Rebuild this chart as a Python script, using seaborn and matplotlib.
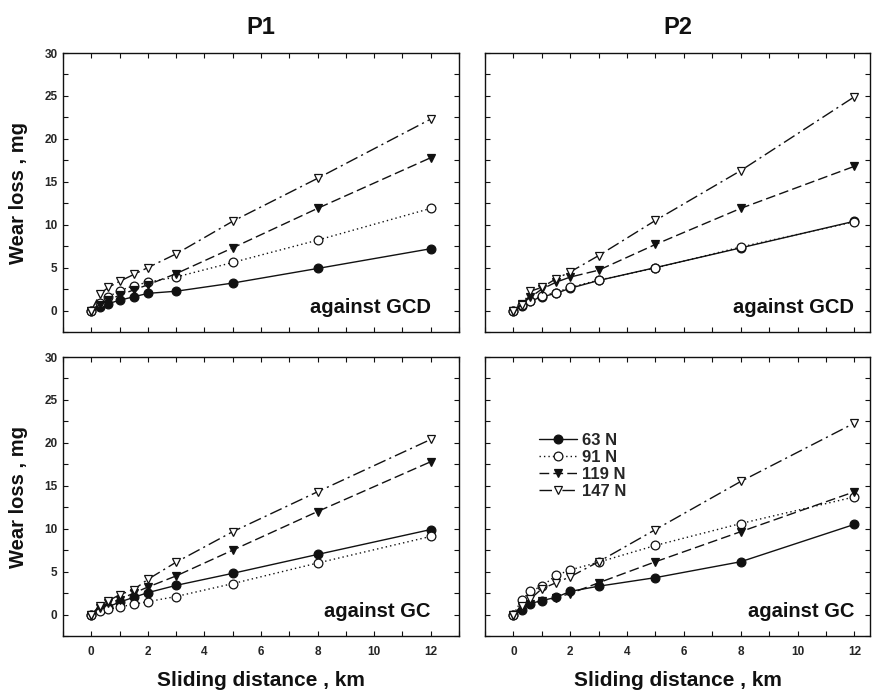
import matplotlib
matplotlib.use("Agg")
import matplotlib.pyplot as plt
from matplotlib.ticker import MultipleLocator
import seaborn as sns
import pandas as pd

# ---------------- data ----------------
distance = [0, 0.3, 0.6, 1, 1.5, 2, 3, 5, 8, 12]
loads = ["63 N", "91 N", "119 N", "147 N"]

p1_gcd_63 = [0, 0.4, 0.8, 1.2, 1.6, 2.0, 2.25, 3.2, 4.9, 7.2]
p1_gcd_91 = [0, 0.9, 1.6, 2.3, 2.9, 3.3, 3.9, 5.6, 8.2, 11.9]
p1_gcd_119 = [0, 0.7, 1.2, 1.8, 2.4, 3.0, 4.3, 7.3, 11.9, 17.8]
p1_gcd_147 = [0, 1.9, 2.7, 3.4, 4.2, 5.0, 6.6, 10.4, 15.4, 22.3]

p2_gcd_63 = [0, 0.55, 1.1, 1.6, 2.0, 2.6, 3.5, 5.0, 7.3, 10.4]
p2_gcd_91 = [0, 0.6, 1.1, 1.7, 2.1, 2.7, 3.55, 4.95, 7.4, 10.35]
p2_gcd_119 = [0, 0.8, 1.55, 2.5, 3.3, 3.9, 4.7, 7.7, 11.9, 16.8]
p2_gcd_147 = [0, 0.6, 2.25, 2.7, 3.7, 4.5, 6.4, 10.5, 16.3, 24.9]

p1_gc_63 = [0, 0.5, 0.9, 1.45, 2.0, 2.55, 3.4, 4.8, 7.0, 9.9]
p1_gc_91 = [0, 0.4, 0.6, 0.88, 1.2, 1.5, 2.1, 3.6, 6.0, 9.1]
p1_gc_119 = [0, 0.8, 1.3, 1.75, 2.5, 3.2, 4.5, 7.5, 12.0, 17.8]
p1_gc_147 = [0, 1.0, 1.6, 2.3, 2.9, 4.1, 6.1, 9.65, 14.3, 20.4]

p2_gc_63 = [0, 0.5, 1.28, 1.63, 2.0, 2.7, 3.3, 4.3, 6.15, 10.5]
p2_gc_91 = [0, 1.75, 2.7, 3.3, 4.55, 5.2, 6.1, 8.05, 10.6, 13.7]
p2_gc_119 = [0, 0.9, 1.17, 1.56, 1.95, 2.45, 3.7, 6.15, 9.65, 14.3]
p2_gc_147 = [0, 1.05, 1.83, 3.0, 3.7, 4.4, 6.15, 9.9, 15.5, 22.3]

col_titles = ["P1", "P2"]
panel_texts = ["against GCD", "against GCD", "against GC", "against GC"]
x_ticks = [0, 2, 4, 6, 8, 10, 12]
y_ticks = [0, 5, 10, 15, 20, 25, 30]

panels = [
    [p1_gcd_63, p1_gcd_91, p1_gcd_119, p1_gcd_147],
    [p2_gcd_63, p2_gcd_91, p2_gcd_119, p2_gcd_147],
    [p1_gc_63, p1_gc_91, p1_gc_119, p1_gc_147],
    [p2_gc_63, p2_gc_91, p2_gc_119, p2_gc_147],
]

# ---------------- style ----------------
sns.set_theme(style="ticks")
plt.rcParams["font.family"] = ["Liberation Sans", "DejaVu Sans"]
plt.rcParams["font.weight"] = "bold"

ink = "#111111"
styles = [
    dict(marker="o", mfc=ink, ls="-"),
    dict(marker="o", mfc="white", ls=(0, (1, 2.2))),
    dict(marker="v", mfc=ink, ls=(0, (7, 3))),
    dict(marker="v", mfc="white", ls=(0, (9, 3, 1.5, 3))),
]

W, H = 874, 695
fig = plt.figure(figsize=(W / 100, H / 100), dpi=100)

boxes = [
    (63, 53, 459, 332),
    (485, 53, 870, 332),
    (63, 357, 459, 636),
    (485, 357, 870, 636),
]
xlims = [(-1, 13), (-1, 12.55), (-1, 13), (-1, 12.55)]

axes = []
for i, (x0, y0, x1, y1) in enumerate(boxes):
    ax = fig.add_axes([x0 / W, (H - y1) / H, (x1 - x0) / W, (y1 - y0) / H])
    axes.append(ax)
    for j, series in enumerate(panels[i]):
        st = styles[j]
        df = pd.DataFrame({"distance": distance, "wear": series})
        sns.lineplot(
            data=df, x="distance", y="wear", ax=ax,
            color=ink, linewidth=1.0, linestyle=st["ls"],
            marker=st["marker"], markersize=6.3,
            markerfacecolor=st["mfc"], markeredgecolor=ink,
            markeredgewidth=0.9,
            label=loads[j] if i == 3 else None,
            legend=False,
        )
    ax.set_xlim(*xlims[i])
    ax.set_ylim(-2.5, 30)
    ax.xaxis.set_major_locator(MultipleLocator(2))
    ax.xaxis.set_minor_locator(MultipleLocator(1))
    ax.yaxis.set_major_locator(MultipleLocator(5))
    ax.yaxis.set_minor_locator(MultipleLocator(2.5))
    ax.set_xticks(x_ticks)
    ax.set_yticks(y_ticks)
    ax.tick_params(which="both", direction="in", top=True, right=True,
                   length=3.5, width=0.8, color=ink, labelsize=8.5)
    ax.tick_params(axis="x", pad=7)
    ax.tick_params(axis="y", pad=4)
    for lab in ax.get_xticklabels() + ax.get_yticklabels():
        lab.set_fontweight("bold")
    for sp in ax.spines.values():
        sp.set_color(ink)
        sp.set_linewidth(1.0)
    ax.set_xlabel("")
    ax.set_ylabel("")
    if i in (0, 1):
        ax.tick_params(labelbottom=False)
    if i in (1, 3):
        ax.tick_params(labelleft=False)
    ax.text(12, 0.3, panel_texts[i], ha="right", va="center",
            fontsize=14.5, fontweight="bold", color=ink)

for i in (0, 2):
    axes[i].set_ylabel("Wear loss , mg", fontsize=14.5, fontweight="bold", color=ink)
    axes[i].yaxis.set_label_coords(-0.088, 0.5)
for i in (2, 3):
    axes[i].set_xlabel("Sliding distance , km", fontsize=15, fontweight="bold", color=ink)
    axes[i].xaxis.set_label_coords(0.5, -0.125)

axes[0].set_title(col_titles[0], fontsize=17, fontweight="bold", color=ink, pad=14)
axes[1].set_title(col_titles[1], fontsize=17, fontweight="bold", color=ink, pad=14)

leg = axes[3].legend(loc="upper left", bbox_to_anchor=(0.11, 0.77), frameon=False,
                     fontsize=12, handlelength=2.3, handletextpad=0.3,
                     labelspacing=0.12, borderpad=0.2)
for t in leg.get_texts():
    t.set_fontweight("bold")

fig.savefig("out.png", dpi=100)
